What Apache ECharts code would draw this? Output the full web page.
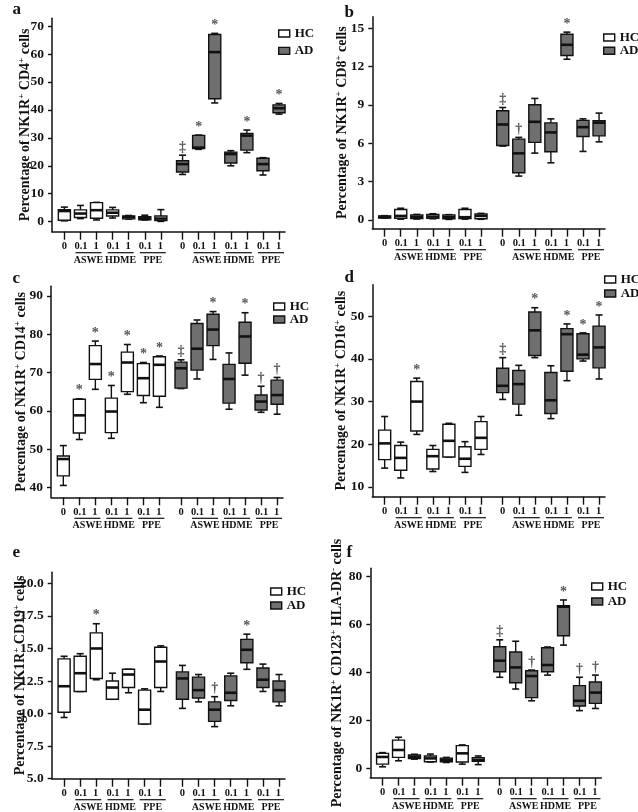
<!DOCTYPE html>
<html>
<head>
<meta charset="utf-8">
<script src="https://cdn.jsdelivr.net/npm/echarts@6/dist/echarts.min.js"></script>
<style>
html, body { margin: 0; padding: 0; background: #fff; }
#chart { width: 638px; height: 812px; }
</style>
</head>
<body>
<div id="chart"></div>
<script>
// tick labels on the x axis
const doseLabels = ['0', '0.1', '1'];
const extractNames = ['ASWE', 'HDME', 'PPE'];
const groupNames = ['HC', 'AD'];

// each box: [min, Q1, median, Q3, max], order 0 | ASWE 0.1, 1 | HDME 0.1, 1 | PPE 0.1, 1
const cd4HC = [[0.3, 0.5, 3.8, 4.3, 5.2], [1.1, 1.5, 2.9, 4.2, 5.8], [0.6, 1.2, 4.1, 6.8, 6.9], [1.3, 2.0, 3.2, 4.2, 5.1], [0.9, 1.0, 1.6, 2.0, 2.2], [0.6, 0.7, 1.2, 1.8, 2.3], [0.1, 0.4, 1.1, 2.0, 4.3]];
const cd4AD = [[16.9, 17.8, 20.6, 21.8, 23.8], [25.9, 26.2, 26.5, 30.9, 31.0], [42.5, 44.0, 60.7, 67.0, 67.4], [20.0, 21.0, 24.2, 24.9, 25.4], [24.7, 25.6, 30.8, 31.6, 32.8], [16.7, 18.2, 20.6, 22.7, 22.9], [38.5, 39.0, 40.6, 41.8, 42.3]];
const cd4HCMarks = ['', '', '', '', '', '', ''];
const cd4ADMarks = ['‡', '*', '*', '', '*', '', '*'];
const cd4Ticks = [0, 10, 20, 30, 40, 50, 60, 70];

const cd8HC = [[0.12, 0.13, 0.22, 0.3, 0.32], [0.05, 0.12, 0.3, 0.8, 0.9], [0.06, 0.1, 0.22, 0.37, 0.42], [0.08, 0.12, 0.25, 0.42, 0.47], [0.03, 0.08, 0.2, 0.37, 0.4], [0.05, 0.1, 0.2, 0.8, 0.9], [0.04, 0.08, 0.3, 0.45, 0.5]];
const cd8AD = [[5.77, 5.82, 7.46, 8.53, 8.79], [3.42, 3.68, 5.2, 6.31, 6.45], [5.22, 6.06, 7.67, 9.0, 9.5], [4.46, 5.32, 6.84, 7.59, 7.9], [12.57, 12.86, 13.7, 14.53, 14.69], [5.35, 6.52, 7.25, 7.78, 7.9], [6.1, 6.57, 7.6, 7.75, 8.35]];
const cd8HCMarks = ['', '', '', '', '', '', ''];
const cd8ADMarks = ['‡', '†', '', '', '*', '', ''];
const cd8Ticks = [0, 3, 6, 9, 12, 15];

const cd14HC = [[40.5, 43.0, 47.4, 48.2, 50.9], [52.5, 54.2, 58.8, 63.0, 63.1], [65.6, 68.2, 72.2, 77.0, 78.2], [52.8, 54.3, 59.8, 63.3, 66.6], [64.3, 65.0, 72.6, 75.3, 77.3], [62.1, 64.0, 68.5, 72.3, 72.6], [60.9, 63.8, 72.0, 74.1, 74.3]];
const cd14AD = [[65.8, 65.9, 71.1, 72.7, 73.3], [68.3, 70.6, 76.2, 82.8, 83.7], [73.4, 77.0, 81.2, 85.2, 85.9], [60.4, 62.0, 68.3, 72.1, 75.1], [69.3, 72.4, 79.4, 83.1, 85.6], [59.6, 60.2, 62.4, 64.1, 66.4], [59.1, 61.7, 64.1, 68.0, 68.7]];
const cd14HCMarks = ['', '*', '*', '*', '*', '*', '*'];
const cd14ADMarks = ['‡', '', '*', '', '*', '†', '†'];
const cd14Ticks = [40, 50, 60, 70, 80, 90];

const cd16HC = [[14.4, 16.4, 20.2, 23.3, 26.5], [12.1, 13.9, 16.8, 19.7, 20.5], [22.3, 23.1, 30.0, 34.7, 35.5], [13.6, 14.2, 17.2, 18.8, 19.7], [17.0, 17.0, 20.8, 24.7, 24.9], [13.4, 14.8, 16.6, 19.4, 20.6], [17.6, 18.8, 21.5, 25.3, 26.5]];
const cd16AD = [[30.5, 32.1, 33.7, 37.8, 40.3], [26.8, 29.4, 34.1, 37.3, 38.5], [40.3, 40.8, 46.7, 51.0, 52.0], [26.0, 27.2, 30.3, 36.8, 38.4], [34.9, 37.1, 45.8, 47.1, 48.2], [39.5, 40.0, 41.0, 45.9, 46.1], [35.3, 37.9, 42.7, 47.7, 50.3]];
const cd16HCMarks = ['', '', '*', '', '', '', ''];
const cd16ADMarks = ['‡', '', '*', '', '*', '*', '*'];
const cd16Ticks = [10, 20, 30, 40, 50];

const cd19HC = [[9.7, 10.1, 12.1, 14.2, 14.4], [11.7, 11.7, 13.1, 14.4, 14.6], [12.6, 12.7, 15.0, 16.2, 16.9], [11.1, 11.1, 12.0, 12.5, 13.1], [11.6, 12.0, 13.0, 13.4, 13.4], [9.2, 9.2, 10.3, 11.8, 11.9], [11.7, 12.0, 14.0, 15.1, 15.2]];
const cd19AD = [[10.4, 11.1, 12.7, 13.2, 13.7], [10.9, 11.2, 11.8, 12.8, 13.0], [9.0, 9.4, 10.3, 10.9, 11.3], [10.6, 11.0, 11.6, 12.9, 13.1], [13.4, 13.9, 14.9, 15.7, 16.1], [11.7, 12.0, 12.6, 13.5, 13.8], [10.6, 10.9, 11.8, 12.5, 13.0]];
const cd19HCMarks = ['', '', '*', '', '', '', ''];
const cd19ADMarks = ['', '', '†', '', '*', '', ''];
const cd19Ticks = [5, 7.5, 10, 12.5, 15, 17.5, 20];

const cd123HC = [[0.8, 1.9, 4.9, 6.4, 6.7], [3.3, 4.7, 7.8, 11.9, 13.1], [4.0, 4.2, 5.0, 5.7, 6.0], [2.8, 2.9, 4.3, 5.3, 6.1], [2.6, 2.9, 3.75, 4.4, 4.7], [1.9, 2.8, 6.4, 9.6, 9.9], [1.7, 3.1, 3.75, 4.6, 5.3]];
const cd123AD = [[38.1, 40.4, 45.0, 50.8, 53.7], [33.2, 35.8, 42.2, 48.6, 53.1], [28.3, 29.6, 38.6, 40.8, 41.1], [39.0, 40.4, 43.2, 50.4, 50.7], [51.5, 55.4, 67.5, 67.9, 70.3], [24.2, 26.1, 28.3, 34.6, 38.1], [25.1, 27.2, 31.7, 36.1, 39.0]];
const cd123HCMarks = ['', '', '', '', '', '', ''];
const cd123ADMarks = ['‡', '', '†', '', '*', '†', '†'];
const cd123Ticks = [0, 20, 40, 60, 80];

// y titles, text between ^ is superscript
const yTitles = [
    'Percentage of NK1R^+^ CD4^+^ cells',
    'Percentage of NK1R^+^ CD8^+^ cells',
    'Percentage of NK1R^+^ CD14^+^ cells',
    'Percentage of NK1R^+^ CD16^+^ cells',
    'Percentage of NK1R^+^ CD19^+^ cells',
    'Percentage of NK1R^+^ CD123^+^ HLA-DR^-^ cells'
];

const FONT = "'Liberation Serif', 'Times New Roman', serif";
const INK = '#111';
const fills = { HC: '#ffffff', AD: '#6f6f6f' };

// box position on the value x axis: one unit apart, a small gap between HC and AD
const boxPos = i => i + (i >= 7 ? 0.35 : 0);
const allPos = Array.from({ length: 14 }, (_, i) => boxPos(i));
const labelPos = [0, 1.5, 3.5, 5.5, 7.35, 8.85, 10.85, 12.85];

const panels = [
    { hc: cd4HC, ad: cd4AD, hcMarks: cd4HCMarks, adMarks: cd4ADMarks, ticks: cd4Ticks,
      grid: { left: 52, top: 18.3, width: 233, height: 213.4 }, yMin: -3.6, yMax: 72.8, nameGap: 18,
      legend: { left: 278, top: 27, itemGap: 4.4 }, letter: { text: 'a', left: 12.5, top: 1 } },
    { hc: cd8HC, ad: cd8AD, hcMarks: cd8HCMarks, adMarks: cd8ADMarks, ticks: cd8Ticks,
      grid: { left: 372.3, top: 16.7, width: 232.7, height: 212 }, yMin: -0.7, yMax: 15.9, nameGap: 21,
      legend: { left: 603, top: 31, itemGap: 0.3 }, letter: { text: 'b', left: 344.5, top: 4 } },
    { hc: cd14HC, ad: cd14AD, hcMarks: cd14HCMarks, adMarks: cd14ADMarks, ticks: cd14Ticks,
      grid: { left: 51, top: 286.3, width: 232, height: 211 }, yMin: 37.4, yMax: 92.5, nameGap: 21,
      legend: { left: 273, top: 300, itemGap: 0 }, letter: { text: 'c', left: 12.5, top: 270.5 } },
    { hc: cd16HC, ad: cd16AD, hcMarks: cd16HCMarks, adMarks: cd16ADMarks, ticks: cd16Ticks,
      grid: { left: 372.3, top: 284.7, width: 232.7, height: 212 }, yMin: 7.7, yMax: 57.4, nameGap: 22,
      legend: { left: 604, top: 273, itemGap: 1 }, letter: { text: 'd', left: 344.5, top: 269 } },
    { hc: cd19HC, ad: cd19AD, hcMarks: cd19HCMarks, adMarks: cd19ADMarks, ticks: cd19Ticks,
      grid: { left: 51.7, top: 572.3, width: 233.3, height: 206.4 }, yMin: 5, yMax: 20.85, nameGap: 23,
      legend: { left: 270, top: 585, itemGap: 1 }, letter: { text: 'e', left: 12.5, top: 544 }, fixed: 1 },
    { hc: cd123HC, ad: cd123AD, hcMarks: cd123HCMarks, adMarks: cd123ADMarks, ticks: cd123Ticks,
      grid: { left: 370.3, top: 568.3, width: 231, height: 209.4 }, yMin: -3.75, yMax: 83.5, nameGap: 24,
      legend: { left: 591, top: 580, itemGap: 2 }, letter: { text: 'f', left: 346.5, top: 544 } }
];

const richTitle = str => str.split('^').map((s, i) => (i % 2 ? '{s|' + s + '}' : '{t|' + s + '}')).join('');

const xLabel = value => {
    let j = 0;
    labelPos.forEach((p, k) => { if (Math.abs(p - value) < Math.abs(labelPos[j] - value)) j = k; });
    if (j % 4 === 0) return '{n|' + doseLabels[0] + '}';
    return '{d|' + doseLabels[1] + '}{d|' + doseLabels[2] + '}\n{u| }\n{g|' + extractNames[j % 4 - 1] + '}';
};

const boxRenderer = (marks, fill) => (params, api) => {
    const x = api.value(0);
    const pMin = api.coord([x, api.value(1)]);
    const pQ1 = api.coord([x, api.value(2)]);
    const pMed = api.coord([x, api.value(3)]);
    const pQ3 = api.coord([x, api.value(4)]);
    const pMax = api.coord([x, api.value(5)]);
    const half = api.size([0.75, 0])[0] / 2;
    const cap = half * 0.58;
    const cx = pMed[0];
    const line = (x1, y1, x2, y2, w) => ({ type: 'line', shape: { x1, y1, x2, y2 }, style: { stroke: INK, lineWidth: w } });
    const children = [
        line(cx, pMax[1], cx, pQ3[1], 1.4),
        line(cx, pQ1[1], cx, pMin[1], 1.4),
        line(cx - cap, pMax[1], cx + cap, pMax[1], 1.6),
        line(cx - cap, pMin[1], cx + cap, pMin[1], 1.6),
        { type: 'rect', shape: { x: cx - half, y: pQ3[1], width: half * 2, height: pQ1[1] - pQ3[1] },
          style: { fill, stroke: INK, lineWidth: 1.4 } },
        line(cx - half, pMed[1], cx + half, pMed[1], 2.6)
    ];
    const m = marks[params.dataIndex];
    if (m) {
        children.push({ type: 'text', x: cx, y: pMax[1] - 1,
            style: { text: m, align: 'center', verticalAlign: 'bottom', fontSize: 14, fontWeight: 'bold', fontFamily: FONT, fill: '#555' } });
    }
    return { type: 'group', children };
};

const labelRich = {
    n: { fontSize: 10.5, fontWeight: 'bold', fontFamily: FONT, color: INK, lineHeight: 9 },
    d: { fontSize: 10.5, fontWeight: 'bold', fontFamily: FONT, color: INK, lineHeight: 9, width: 15, align: 'center' },
    u: { fontSize: 1, width: 26, height: 1.2, lineHeight: 4, backgroundColor: INK, align: 'center' },
    g: { fontSize: 10, fontWeight: 'bold', fontFamily: FONT, color: INK, lineHeight: 11, align: 'center' }
};

const option = {
    animation: false,
    backgroundColor: '#fff',
    title: [], legend: [], grid: [], xAxis: [], yAxis: [], series: []
};

panels.forEach((p, k) => {
    option.title.push({ text: p.letter.text, left: p.letter.left, top: p.letter.top, padding: 0,
        textStyle: { fontSize: 17, fontWeight: 'bold', fontFamily: FONT, color: INK } });
    option.legend.push({ orient: 'vertical', left: p.legend.left, top: p.legend.top, padding: 0,
        itemGap: p.legend.itemGap, itemWidth: 11, itemHeight: 7, icon: 'rect',
        textStyle: { fontSize: 13, fontWeight: 'bold', fontFamily: FONT, color: INK, lineHeight: 13 },
        data: groupNames.map(g => ({ name: g, itemStyle: { color: fills[g], borderColor: INK, borderWidth: 1.4 } })) });
    option.grid.push(Object.assign({ containLabel: false, outerBoundsMode: 'none' }, p.grid));
    option.xAxis.push({
        type: 'value', gridIndex: k, min: -0.77, max: 13.72,
        axisLine: { show: true, onZero: false, lineStyle: { color: INK, width: 1.5 } },
        axisTick: { show: true, customValues: allPos, length: 8, lineStyle: { color: INK, width: 1.4 } },
        axisLabel: { customValues: labelPos, margin: 10, hideOverlap: false, showMinLabel: true, showMaxLabel: true,
            formatter: xLabel, rich: labelRich },
        splitLine: { show: false }
    });
    option.yAxis.push({
        type: 'value', gridIndex: k, min: p.yMin, max: p.yMax,
        axisLine: { show: true, onZero: false, lineStyle: { color: INK, width: 1.5 } },
        axisTick: { show: true, customValues: p.ticks, length: 4, lineStyle: { color: INK, width: 1.4 } },
        axisLabel: { customValues: p.ticks, margin: 8, color: INK, fontSize: 13.5, fontWeight: 'bold', fontFamily: FONT,
            formatter: v => (p.fixed ? v.toFixed(p.fixed) : String(v)) },
        splitLine: { show: false },
        name: richTitle(yTitles[k]), nameLocation: 'middle', nameGap: p.nameGap, nameRotate: 90, nameMoveOverlap: false,
        nameTextStyle: { color: INK, rich: {
            t: { fontSize: 14, fontWeight: 'bold', fontFamily: FONT, color: INK, lineHeight: 17 },
            s: { fontSize: 9, fontWeight: 'bold', fontFamily: FONT, color: INK, verticalAlign: 'top', lineHeight: 10 }
        } }
    });
    [['HC', p.hc, p.hcMarks, 0], ['AD', p.ad, p.adMarks, 7]].forEach(([name, boxes, marks, offset]) => {
        option.series.push({
            type: 'custom', name, xAxisIndex: k, yAxisIndex: k,
            itemStyle: { color: fills[name], borderColor: INK },
            encode: { x: 0, y: [1, 2, 3, 4, 5] },
            renderItem: boxRenderer(marks, fills[name]),
            data: boxes.map((b, i) => [boxPos(i + offset)].concat(b))
        });
    });
});

const chart = echarts.init(document.getElementById('chart'));
chart.setOption(option);
</script>
</body>
</html>
